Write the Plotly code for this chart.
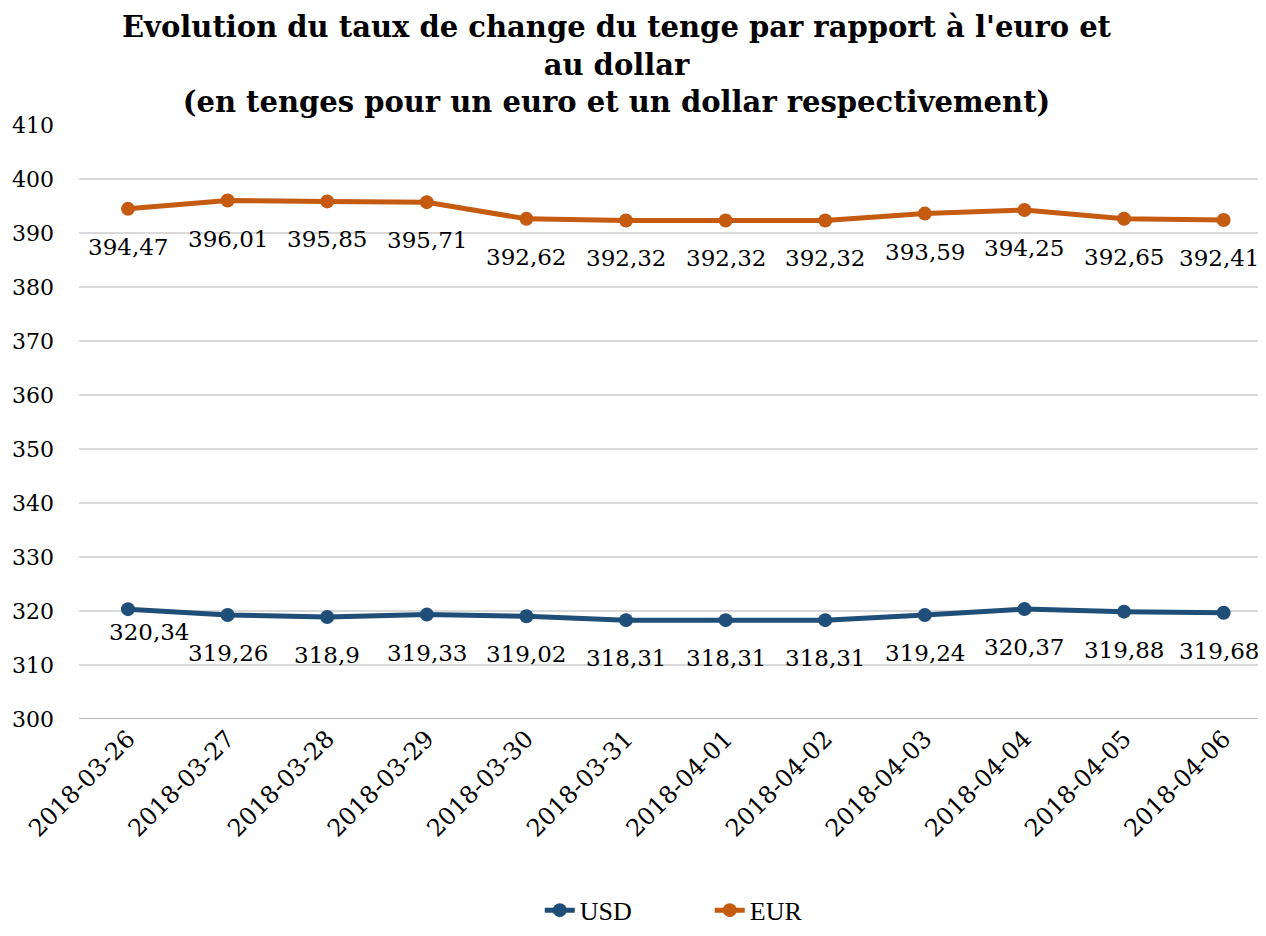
import plotly.graph_objects as go

dates = ["2018-03-26", "2018-03-27", "2018-03-28", "2018-03-29", "2018-03-30", "2018-03-31",
         "2018-04-01", "2018-04-02", "2018-04-03", "2018-04-04", "2018-04-05", "2018-04-06"]
usd = [320.34, 319.26, 318.9, 319.33, 319.02, 318.31, 318.31, 318.31, 319.24, 320.37, 319.88, 319.68]
eur = [394.47, 396.01, 395.85, 395.71, 392.62, 392.32, 392.32, 392.32, 393.59, 394.25, 392.65, 392.41]
y_ticks = [300, 310, 320, 330, 340, 350, 360, 370, 380, 390, 400, 410]

FONT = "Georgia, 'DejaVu Serif', serif"

def fmt(v):
    s = f"{v:.2f}".rstrip("0").rstrip(".")
    return s.replace(".", ",")

x_idx = list(range(len(dates)))
last = len(dates) - 1

fig = go.Figure()
fig.add_trace(go.Scatter(
    x=x_idx, y=usd, name="USD", mode="lines+markers",
    line=dict(color="#1F4E79", width=5), marker=dict(size=14, color="#1F4E79"),
))
fig.add_trace(go.Scatter(
    x=x_idx, y=eur, name="EUR", mode="lines+markers",
    line=dict(color="#C55A11", width=5), marker=dict(size=14, color="#C55A11"),
))

# data labels below the points (first USD label nudged as in the original)
for series in (usd, eur):
    for i, v in enumerate(series):
        dx, dy = 0, -38
        if series is usd and i == 0:
            dx, dy = 21, -23
        if i == last:
            dx = -5
        fig.add_annotation(x=i, y=v, xref="x", yref="y", text=fmt(v), showarrow=False,
                           xshift=dx, yshift=dy,
                           font=dict(family=FONT, size=23, color="#000000"))

fig.add_annotation(
    text="Evolution du taux de change du tenge par rapport à l'euro et<br>au dollar<br>(en tenges pour un euro et un dollar respectivement)",
    xref="paper", yref="paper", x=0.4567, y=1.1964, xanchor="center", yanchor="top",
    showarrow=False, align="center",
    font=dict(family=FONT, size=29, color="#000000", weight="bold"),
)

fig.update_layout(
    width=1250, height=920,
    paper_bgcolor="white", plot_bgcolor="white",
    font=dict(family=FONT, color="#000000"),
    margin=dict(l=71, r=0, t=117, b=209, autoexpand=False),
    showlegend=True,
    legend=dict(orientation="h", x=0.535, xanchor="center", y=-0.322, yanchor="middle",
                font=dict(family="'Liberation Serif', serif", size=26),
                entrywidth=125, traceorder="normal"),
)
fig.update_xaxes(
    tickmode="array", tickvals=x_idx, ticktext=dates, tickangle=-45,
    range=[-0.492, 11.345], showgrid=False, zeroline=False, automargin=False,
    tickfont=dict(family=FONT, size=24), showline=False, ticks="",
)
fig.update_yaxes(
    range=[300, 410], tickvals=y_ticks, showgrid=True, gridcolor="#D9D9D9", gridwidth=1.5,
    zeroline=False, tickfont=dict(family=FONT, size=22), ticks="", showline=False,
    automargin=False, ticklabelstandoff=24,
)
fig.add_shape(type="line", xref="paper", yref="y", x0=0, x1=1, y0=300, y1=300,
              line=dict(color="#A6A6A6", width=1.5))

fig.write_html("out.html")
